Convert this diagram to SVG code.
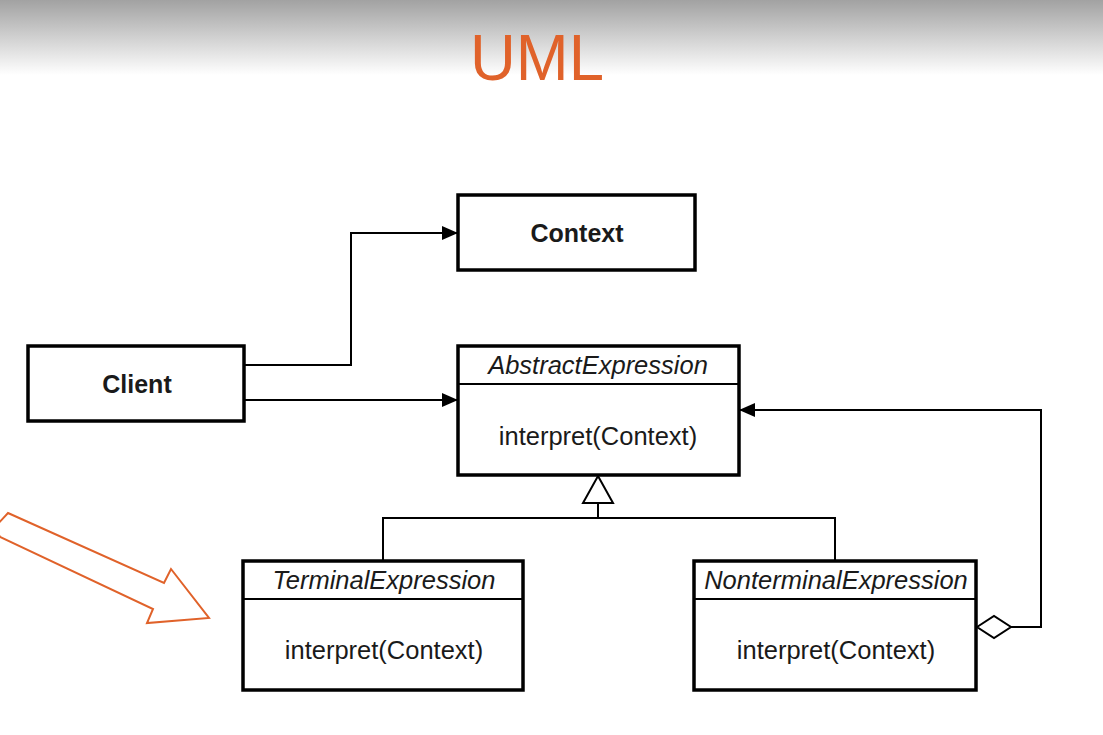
<svg xmlns="http://www.w3.org/2000/svg" width="1103" height="735" viewBox="0 0 1103 735">
<defs>
<linearGradient id="bg" x1="0" y1="0" x2="0" y2="1">
<stop offset="0" stop-color="#a2a2a2"/>
<stop offset="1" stop-color="#ffffff"/>
</linearGradient>
<marker id="arr" viewBox="0 0 16 14" refX="16" refY="7" markerWidth="16" markerHeight="14" markerUnits="userSpaceOnUse" orient="auto">
<path d="M0,0 L16,7 L0,14 Z" fill="#000"/>
</marker>
</defs>
<style>
.box{fill:#fff;stroke:#000;stroke-width:3.5}
.ln{fill:none;stroke:#000;stroke-width:2}
.t{font-family:"Liberation Sans",Arial,sans-serif;font-size:25.5px;fill:#1a1a1a;text-anchor:middle}
.b{font-weight:bold;font-size:25px}
.i{font-style:italic}
</style>
<rect x="0" y="0" width="1103" height="735" fill="#fff"/>
<rect x="0" y="0" width="1103" height="75" fill="url(#bg)"/>
<text x="537" y="80" font-family="Liberation Sans Narrow,'Liberation Sans',Arial,sans-serif" font-size="64" fill="#e0622a" text-anchor="middle" textLength="134" lengthAdjust="spacingAndGlyphs">UML</text>

<polygon points="8,513 164,583 171,569 209,618 147,623 153,609 0,537 -5,527" fill="#fff" stroke="#e0622a" stroke-width="2" stroke-linejoin="miter"/>

<g id="connectors">
<polyline class="ln" points="244,365 351,365 351,233 458,233" marker-end="url(#arr)"/>
<line class="ln" x1="244" y1="400" x2="458" y2="400" marker-end="url(#arr)"/>
<polygon points="598,476 613,503 583,503" fill="#fff" stroke="#000" stroke-width="2"/>
<polyline class="ln" points="598,503 598,518"/>
<polyline class="ln" points="383,561 383,518 835,518 835,561"/>
<polygon points="977,627 994,616 1011,627 994,638" fill="#fff" stroke="#000" stroke-width="2"/>
<polyline class="ln" points="1011,627 1041,627 1041,410 739,410" marker-end="url(#arr)"/>
</g>

<g id="context">
<rect class="box" x="458" y="195" width="237" height="75"/>
<text class="t b" x="577" y="242">Context</text>
</g>
<g id="client">
<rect class="box" x="28" y="346" width="216" height="75"/>
<text class="t b" x="137" y="393">Client</text>
</g>
<g id="abstractexpression">
<rect class="box" x="458" y="346" width="281" height="129"/>
<line class="ln" x1="458" y1="384" x2="739" y2="384" stroke-width="3"/>
<text class="t i" x="598" y="374">AbstractExpression</text>
<text class="t" x="598" y="445">interpret(Context)</text>
</g>
<g id="terminalexpression">
<rect class="box" x="243" y="561" width="280" height="129"/>
<line class="ln" x1="243" y1="599" x2="523" y2="599" stroke-width="3"/>
<text class="t i" x="384" y="589">TerminalExpression</text>
<text class="t" x="384" y="659">interpret(Context)</text>
</g>
<g id="nonterminalexpression">
<rect class="box" x="694" y="561" width="282" height="129"/>
<line class="ln" x1="694" y1="599" x2="976" y2="599" stroke-width="3"/>
<text class="t i" x="836" y="589">NonterminalExpression</text>
<text class="t" x="836" y="659">interpret(Context)</text>
</g>
</svg>
